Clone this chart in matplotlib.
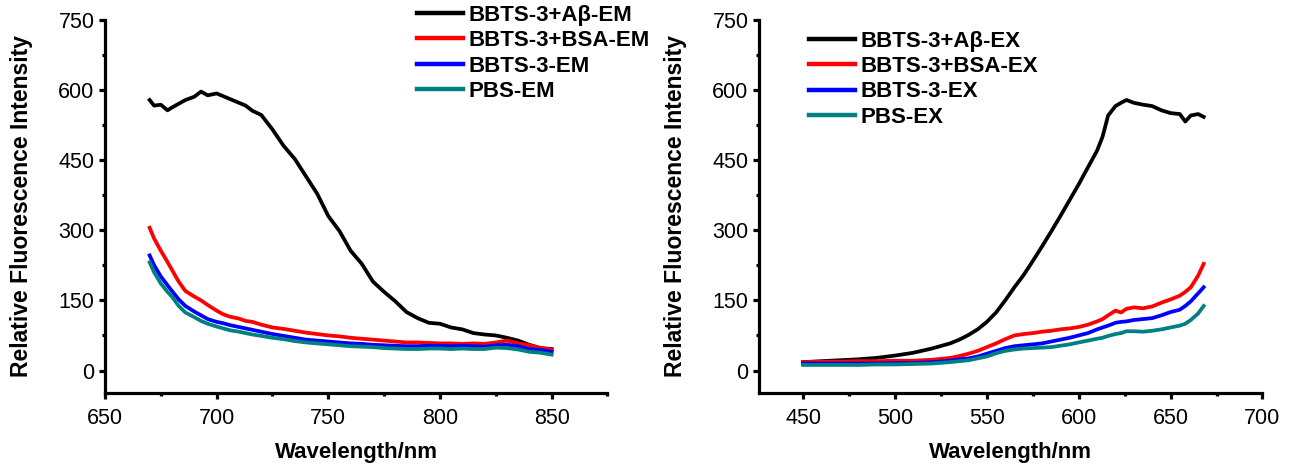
import matplotlib
matplotlib.use("Agg")
import matplotlib.pyplot as plt
from matplotlib.ticker import MultipleLocator

plt.rcParams['font.family'] = ['Liberation Sans', 'DejaVu Sans']

# emission spectra (left)
em_x = [670, 672, 675, 678, 680, 683, 686, 690, 693, 696, 700, 703, 706, 710, 713, 716, 720,
        725, 730, 735, 740, 745, 750, 755, 760, 765, 770, 775, 780, 785, 790, 795, 800,
        805, 810, 815, 820, 825, 830, 835, 840, 845, 850]
em_abeta = [578, 566, 568, 556, 562, 570, 578, 585, 596, 588, 592, 586, 580, 572, 566, 555, 546,
            515, 480, 452, 415, 378, 330, 298, 256, 228, 190, 168, 148, 125, 112, 102, 100,
            92, 88, 80, 77, 75, 70, 64, 55, 48, 46]
em_bsa = [305, 282, 256, 232, 215, 190, 170, 158, 150, 140, 128, 120, 115, 111, 106, 104, 98,
          92, 89, 85, 81, 78, 75, 73, 70, 68, 66, 64, 62, 60, 60, 59, 58,
          58, 57, 58, 57, 60, 64, 58, 54, 48, 45]
em_bbts = [246, 225, 201, 182, 170, 152, 138, 126, 118, 110, 104, 101, 97, 93, 90, 87, 83,
           78, 74, 70, 66, 64, 62, 60, 58, 57, 55, 54, 53, 52, 52, 53, 53,
           52, 53, 52, 51, 54, 55, 52, 46, 44, 40]
em_pbs = [231, 210, 186, 168, 158, 138, 124, 114, 106, 100, 94, 90, 86, 83, 80, 77, 74,
          70, 67, 63, 60, 58, 56, 54, 52, 51, 50, 48, 47, 46, 46, 47, 47,
          46, 47, 46, 46, 49, 48, 45, 40, 38, 34]

# excitation spectra (right)
ex_x = [450, 460, 470, 480, 490, 500, 510, 520, 530, 535, 540, 545, 550, 555, 560, 565, 570,
        575, 580, 585, 590, 595, 600, 605, 610, 613, 616, 620, 623, 626, 630, 635, 640,
        645, 650, 655, 658, 661, 665, 668]
ex_abeta = [18, 20, 22, 24, 27, 32, 38, 47, 58, 66, 76, 88, 104, 124, 150, 178, 204,
            234, 265, 297, 330, 364, 398, 434, 470, 500, 545, 565, 572, 578, 572, 568, 565,
            556, 550, 548, 532, 545, 548, 542]
ex_bsa = [18, 19, 19, 20, 20, 21, 21, 23, 27, 31, 36, 42, 50, 58, 67, 75, 78,
          80, 83, 85, 88, 90, 93, 98, 105, 110, 118, 128, 124, 132, 135, 133, 137,
          145, 152, 160, 168, 178, 203, 228]
ex_bbts = [15, 15, 15, 15, 15, 16, 16, 18, 21, 24, 26, 30, 36, 42, 48, 52, 54,
           56, 58, 62, 66, 70, 75, 80, 88, 92, 96, 102, 104, 105, 108, 110, 112,
           118, 125, 130, 138, 148, 165, 178]
ex_pbs = [12, 12, 12, 12, 13, 13, 14, 15, 18, 20, 22, 26, 30, 37, 42, 45, 47,
          48, 49, 50, 53, 56, 60, 64, 68, 70, 74, 78, 80, 84, 84, 83, 85,
          88, 92, 96, 100, 108, 122, 138]

colors = ['black', '#ff0000', '#0000ff', '#008080']
em_labels = ['BBTS-3+A\u03b2-EM', 'BBTS-3+BSA-EM', 'BBTS-3-EM', 'PBS-EM']
ex_labels = ['BBTS-3+A\u03b2-EX', 'BBTS-3+BSA-EX', 'BBTS-3-EX', 'PBS-EX']

fig = plt.figure(figsize=(12.93, 4.70), dpi=100)
ax1 = fig.add_axes([0.0812, 0.1638, 0.3886, 0.7947])
ax2 = fig.add_axes([0.5870, 0.1638, 0.3894, 0.7947])


def style(ax, xlim, xmaj, xmin):
    ax.set_xlim(*xlim)
    ax.set_ylim(-48, 750)
    ax.xaxis.set_major_locator(MultipleLocator(xmaj))
    ax.xaxis.set_minor_locator(MultipleLocator(xmin))
    ax.yaxis.set_major_locator(MultipleLocator(150))
    ax.yaxis.set_minor_locator(MultipleLocator(75))
    for s in ['top', 'right']:
        ax.spines[s].set_visible(False)
    for s in ['left', 'bottom']:
        ax.spines[s].set_linewidth(2.3)
    ax.tick_params(which='major', direction='out', length=4.5, width=2.3, labelsize=15.5)
    ax.tick_params(axis='x', which='major', pad=6)
    ax.tick_params(axis='y', which='major', pad=3)
    ax.tick_params(which='minor', direction='out', length=2.5, width=2.3)
    ax.set_xlabel('Wavelength/nm', fontsize=16, fontweight='bold', labelpad=10)
    ax.set_ylabel('Relative Fluorescence Intensity', fontsize=16.5, fontweight='bold', labelpad=18)


for ys, c, lab in zip([em_abeta, em_bsa, em_bbts, em_pbs], colors, em_labels):
    ax1.plot(em_x, ys, color=c, lw=2.7, label=lab)
for ys, c, lab in zip([ex_abeta, ex_bsa, ex_bbts, ex_pbs], colors, ex_labels):
    ax2.plot(ex_x, ys, color=c, lw=2.7, label=lab)

style(ax1, (650, 875), 50, 25)
style(ax2, (426, 700), 50, 25)
ax2.set_xticks([450, 500, 550, 600, 650, 700])

leg_kw = dict(frameon=False, loc='upper left', borderpad=0, borderaxespad=0,
              handlelength=2.07, handletextpad=0.25, labelspacing=0.2,
              prop={'weight': 'bold', 'size': 16})
l1 = ax1.legend(bbox_to_anchor=(0.3223, 0.99), bbox_transform=fig.transFigure, **leg_kw)
l2 = ax2.legend(bbox_to_anchor=(0.6255, 0.935), bbox_transform=fig.transFigure, **leg_kw)
for leg in (l1, l2):
    for h in leg.get_lines():
        h.set_linewidth(3.2)

fig.savefig('out.png', dpi=100)
